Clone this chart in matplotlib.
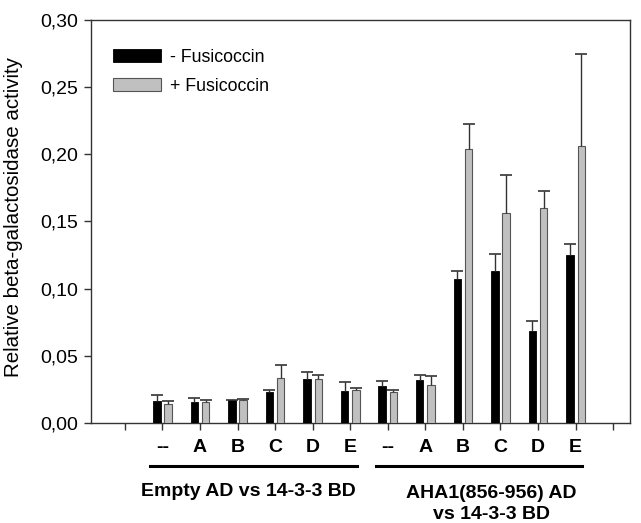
import matplotlib
matplotlib.use("Agg")
import matplotlib.pyplot as plt
from matplotlib.lines import Line2D
import numpy as np

plt.rcParams['font.family'] = ['Liberation Sans', 'DejaVu Sans']

categories = ['--', 'A', 'B', 'C', 'D', 'E', '--', 'A', 'B', 'C', 'D', 'E']
minus_fc = [0.0163, 0.0155, 0.0168, 0.0225, 0.0328, 0.0235,
            0.0275, 0.0320, 0.1070, 0.1128, 0.0680, 0.1248]
minus_err = [0.0042, 0.0025, 0.0003, 0.0018, 0.0050, 0.0067,
             0.0035, 0.0032, 0.0063, 0.0127, 0.0075, 0.0087]
plus_fc = [0.0140, 0.0150, 0.0168, 0.0333, 0.0328, 0.0240,
           0.0230, 0.0278, 0.2040, 0.1560, 0.1600, 0.2065]
plus_err = [0.0023, 0.0015, 0.0005, 0.0100, 0.0025, 0.0015,
            0.0010, 0.0067, 0.0190, 0.0290, 0.0128, 0.0685]
group_labels = ['Empty AD vs 14-3-3 BD', 'AHA1(856-956) AD\nvs 14-3-3 BD']
legend_labels = ['- Fusicoccin', '+ Fusicoccin']
y_ticks = [0.0, 0.05, 0.10, 0.15, 0.20, 0.25, 0.30]

fig = plt.figure(figsize=(6.41, 5.23), dpi=100)
ax = fig.add_axes([0.142, 0.192, 0.841, 0.769])

x = np.arange(1, len(categories) + 1)
w = 0.2
off = 0.15
n = len(categories)
ecol = '#333333'
b1 = ax.bar(x - off, minus_fc, w, color='black', edgecolor='black', linewidth=0.6,
            yerr=[[0] * n, minus_err], capsize=4.3,
            error_kw=dict(ecolor=ecol, elinewidth=1.0, capthick=1.2),
            label=legend_labels[0], zorder=3)
b2 = ax.bar(x + off, plus_fc, w, color='#c0c0c0', edgecolor='#555555', linewidth=0.8,
            yerr=[[0] * n, plus_err], capsize=4.3,
            error_kw=dict(ecolor=ecol, elinewidth=1.0, capthick=1.2),
            label=legend_labels[1], zorder=3)
for b in (b1, b2):
    caps = b.errorbar.lines[1]
    caps[0].set_visible(False)

ax.set_xlim(-0.9, 13.45)
ax.set_ylim(0, 0.30)
ax.set_xticks(np.arange(0, 14))
ax.set_xticklabels([''] + categories + [''], fontsize=14, fontweight='bold')
ax.set_yticks(y_ticks)
ax.set_yticklabels([f"{v:.2f}".replace('.', ',') for v in y_ticks], fontsize=14)
ax.tick_params(axis='x', length=5, width=1, pad=7, color='#333333')
ax.tick_params(axis='y', length=5, width=1, pad=4, color='#333333')
for s in ax.spines.values():
    s.set_color('#333333')
    s.set_linewidth(1.0)
ax.set_ylabel('Relative beta-galactosidase activity', fontsize=14.8, labelpad=8)
ax.yaxis.set_label_coords(-0.127, 0.51)

# group lines and labels
tr = ax.get_xaxis_transform()
for (x0, x1) in [(0.66, 6.17), (6.68, 12.18)]:
    ax.add_line(Line2D([x0, x1], [-0.109, -0.109], transform=tr, color='black',
                       linewidth=2.2, clip_on=False))
ax.text(3.3, -0.172, group_labels[0], transform=tr, ha='center', va='center',
        fontsize=14, fontweight='bold')
ax.text(9.75, -0.2015, group_labels[1], transform=tr, ha='center', va='center',
        fontsize=14, fontweight='bold', linespacing=1.3)

ax.legend(loc='upper left', bbox_to_anchor=(0.04, 0.93), frameon=False,
          fontsize=12.8, handlelength=2.75, handleheight=0.75, handletextpad=0.5,
          labelspacing=0.7, borderpad=0, borderaxespad=0)

fig.savefig('out.png', dpi=100)
